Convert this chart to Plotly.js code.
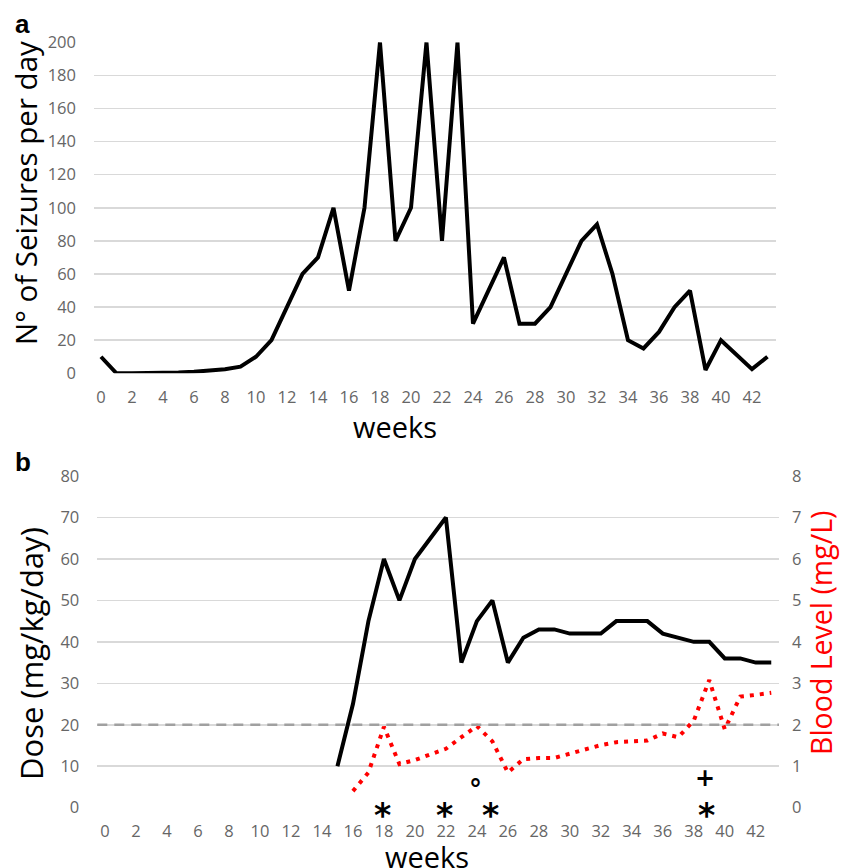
<!DOCTYPE html>
<html>
<head>
<meta charset="utf-8">
<script src="https://cdn.plot.ly/plotly-3.0.1.min.js"></script>
<style>html,body{margin:0;padding:0;background:#fff;}#chart{width:841px;height:868px;}</style>
</head>
<body>
<div id="chart"></div>
<script>
// ---- data ----
const weeks = [0,1,2,3,4,5,6,7,8,9,10,11,12,13,14,15,16,17,18,19,20,21,22,23,24,25,26,27,28,29,30,31,32,33,34,35,36,37,38,39,40,41,42,43];
const seizures = [10,0,0,0,0,0.5,1,1.5,2.5,4,10,20,40,60,70,100,50,100,200,80,100,200,80,200,30,50,70,30,30,40,60,80,90,60,20,15,25,40,50,2,20,11,2.5,10];
const doseWeeks = [15,16,17,18,19,20,21,22,23,24,25,26,27,28,29,30,31,32,33,34,35,36,37,38,39,40,41,42,43];
const dose = [10,25,45,60,50,60,65,70,35,45,50,35,41,43,43,42,42,42,45,45,45,42,41,40,40,36,36,35,35];
const bloodWeeks = [16,17,18,19,20,21,22,23,24,25,26,27,28,29,30,31,32,33,34,35,36,37,38,39,40,41,42,43];
const blood = [0.4,0.85,1.95,1.05,1.15,1.28,1.42,1.7,1.97,1.6,0.85,1.17,1.2,1.2,1.3,1.4,1.51,1.58,1.59,1.62,1.79,1.7,2.1,3.08,1.89,2.68,2.72,2.77];
const threshold = 20;
const markSymbols = ['*','*','*','*','°','+'];
const markWeeks = [17.9,21.9,24.9,38.8,23.9,38.7];
const markDose = [0,0,0,0,6.4,7.2];
const tickWeeks = [0,2,4,6,8,10,12,14,16,18,20,22,24,26,28,30,32,34,36,38,40,42];

const W = 841, H = 868;
const px = v => v / W, py = v => 1 - v / H;
const FONT = '"Open Sans", Lato, sans-serif';
const tickFont = {family: FONT, size: 16.5, color: '#666666'};
const gridColor = '#d9d9d9';

const traces = [
  {x: weeks, y: seizures, type: 'scatter', mode: 'lines', xaxis: 'x', yaxis: 'y',
   line: {color: '#000', width: 4}, cliponaxis: false},
  {x: doseWeeks, y: dose, type: 'scatter', mode: 'lines', xaxis: 'x2', yaxis: 'y2',
   line: {color: '#000', width: 4}, cliponaxis: false},
  {x: bloodWeeks, y: blood, type: 'scatter', mode: 'lines', xaxis: 'x2', yaxis: 'y3',
   line: {color: '#ff0000', width: 4, dash: '4px,6px'}, cliponaxis: false}
];

const annotations = [
  {text: '<b>a</b>', xref: 'paper', yref: 'paper', x: px(13), y: py(24), xanchor: 'left', yanchor: 'middle', showarrow: false, font: {family: 'Liberation Sans, Arial', size: 26, color: '#000'}},
  {text: '<b>b</b>', xref: 'paper', yref: 'paper', x: px(13), y: py(462), xanchor: 'left', yanchor: 'middle', showarrow: false, font: {family: 'Liberation Sans, Arial', size: 26, color: '#000'}},
  {text: 'N° of Seizures per day', xref: 'paper', yref: 'paper', x: px(25), y: py(193), textangle: -90, showarrow: false, xanchor: 'center', yanchor: 'middle', font: {family: FONT, size: 29.5, color: '#000'}},
  {text: 'weeks', xref: 'paper', yref: 'paper', x: px(395), y: py(426), showarrow: false, xanchor: 'center', yanchor: 'middle', font: {family: FONT, size: 29, color: '#000'}},
  {text: 'Dose (mg/kg/day)', xref: 'paper', yref: 'paper', x: px(31), y: py(654), textangle: -90, showarrow: false, xanchor: 'center', yanchor: 'middle', font: {family: FONT, size: 31, color: '#000'}},
  {text: 'Blood Level (mg/L)', xref: 'paper', yref: 'paper', x: px(821), y: py(633), textangle: -90, showarrow: false, xanchor: 'center', yanchor: 'middle', font: {family: FONT, size: 28.5, color: '#ff0000'}},
  {text: 'weeks', xref: 'paper', yref: 'paper', x: px(427), y: py(856), showarrow: false, xanchor: 'center', yanchor: 'middle', font: {family: FONT, size: 29, color: '#000'}}
];
const markFont = {'*': 33, '°': 26, '+': 24};
const markShift = {'*': -8, '°': -8, '+': 0};
markSymbols.forEach((s, i) => {
  annotations.push({text: '<b>' + s + '</b>', x: markWeeks[i], y: markDose[i], xref: 'x2', yref: 'y2', showarrow: false,
    xanchor: 'center', yanchor: 'middle', yshift: markShift[s],
    font: {family: 'DejaVu Sans', size: markFont[s], color: '#000'}});
});

const layout = {
  width: W, height: H,
  margin: {l: 0, r: 0, t: 0, b: 0},
  paper_bgcolor: '#fff', plot_bgcolor: '#fff',
  showlegend: false,
  xaxis: {domain: [px(94), px(776)], range: [-0.45, 43.55], tickvals: tickWeeks, ticks: '', showgrid: false,
          zeroline: false, showline: false, tickfont: tickFont, ticklabelstandoff: 12, anchor: 'y'},
  yaxis: {domain: [py(373.3), py(42.3)], range: [0, 200], dtick: 20, ticks: '', showgrid: true, gridcolor: gridColor,
          gridwidth: 1.5, zeroline: false, showline: false, tickfont: tickFont, ticklabelstandoff: 17, anchor: 'x'},
  xaxis2: {domain: [px(97.3), px(779)], range: [-0.5, 43.5], tickvals: tickWeeks, ticks: '', showgrid: false,
           zeroline: false, showline: false, tickfont: tickFont, ticklabelstandoff: 12, anchor: 'y2'},
  yaxis2: {domain: [py(807.7), py(476)], range: [0, 80], dtick: 10, ticks: '', showgrid: true, gridcolor: gridColor,
           gridwidth: 1.5, zeroline: false, showline: false, tickfont: tickFont, ticklabelstandoff: 17, anchor: 'x2'},
  yaxis3: {overlaying: 'y2', side: 'right', range: [0, 8], dtick: 1, ticks: '', showgrid: false, zeroline: false,
           showline: false, tickfont: tickFont, ticklabelstandoff: 12, anchor: 'x2'},
  shapes: [{type: 'line', xref: 'x2 domain', yref: 'y2', x0: 0, x1: 1, y0: threshold, y1: threshold,
            line: {color: '#a0a0a0', width: 2.5, dash: '10px,7px'}, layer: 'above'}],
  annotations: annotations
};

Plotly.newPlot('chart', traces, layout, {displayModeBar: false, staticPlot: true});
</script>
</body>
</html>
